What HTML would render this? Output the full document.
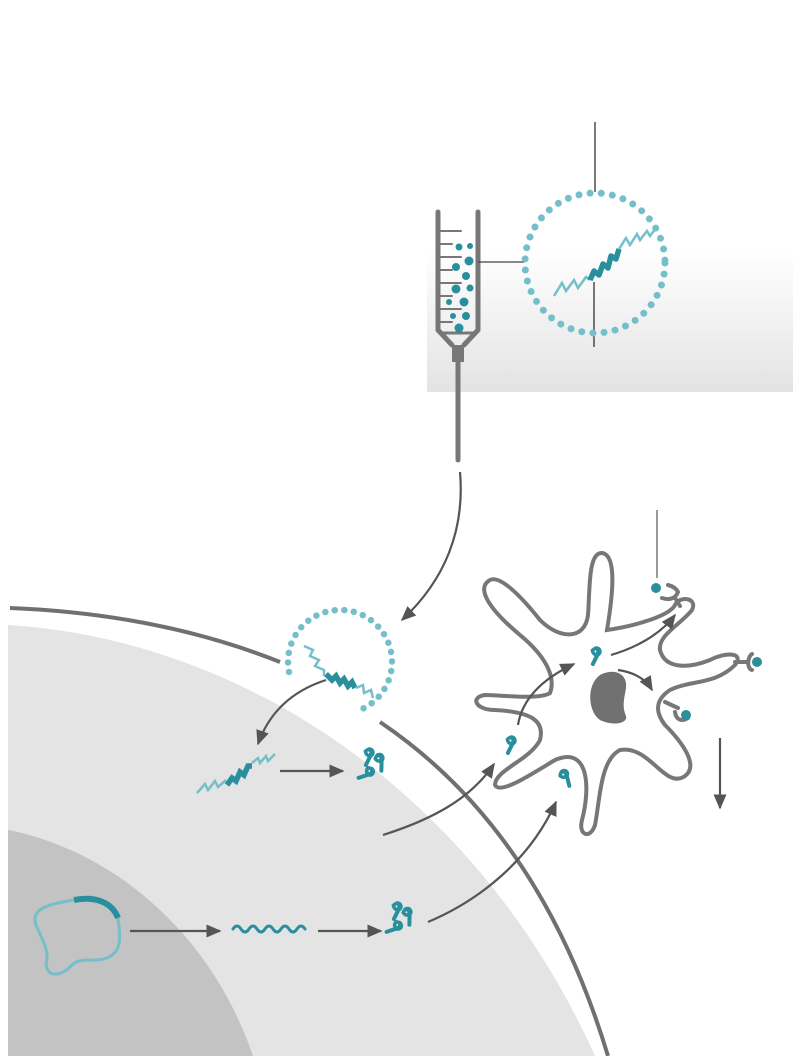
<!DOCTYPE html>
<html><head><meta charset="utf-8"><style>html,body{margin:0;padding:0;background:#fff}svg{display:block}</style></head>
<body>
<svg width="808" height="1056" viewBox="0 0 808 1056" xmlns="http://www.w3.org/2000/svg">
<defs>
<linearGradient id="g" x1="0" y1="0" x2="0" y2="1"><stop offset="0" stop-color="#fff"/><stop offset="1" stop-color="#e3e3e3"/></linearGradient>
<marker id="ah" viewBox="0 0 10 10" refX="9" refY="5" markerWidth="15" markerHeight="13" orient="auto" markerUnits="userSpaceOnUse" preserveAspectRatio="none">
<path d="M0,0 L10,5 L0,10 Z" fill="#555"/></marker>
<g id="p"><path d="M0,-8 C4,-9 6,-5 3,-2 L1,8" fill="none" stroke="#2a8f9c" stroke-width="4" stroke-linecap="round"/><path d="M-3,-5 C-1,-9 3,-8 3,-4 C2,-1 -1,-1 -3,-5Z" fill="none" stroke="#2a8f9c" stroke-width="3.5"/></g>
<g id="pp"><use href="#p" transform="translate(0,0) rotate(15)"/><use href="#p" transform="translate(12,6) rotate(-10)"/><use href="#p" transform="translate(-2,16) rotate(60)"/></g>
</defs>
<rect x="427" y="250" width="366" height="142" fill="url(#g)"/>
<!-- cell -->
<path d="M8,625 C250,640 480,800 595,1056 L8,1056 Z" fill="#e4e4e4"/>
<path d="M8,830 C110,850 210,930 253,1056 L8,1056 Z" fill="#c3c3c3"/>
<path d="M10,608 Q160,614 280,662" fill="none" stroke="#707070" stroke-width="4"/>
<path d="M380,722 Q540,830 608,1056" fill="none" stroke="#707070" stroke-width="4"/>
<!-- syringe -->
<g stroke="#777" fill="none" stroke-linecap="round">
<path d="M438,212 V330 L452,345 M478,212 V330 L464,345" stroke-width="5"/>
<path d="M440,333 L476,333" stroke-width="3"/>
<path d="M440,231 H461 M440,244 H452 M440,257 H461 M440,270 H452 M440,283 H461 M440,296 H452 M440,309 H461 M440,322 H452" stroke-width="2"/>
<rect x="452" y="345" width="12" height="17" fill="#777" stroke="none"/>
<path d="M458,360 V460" stroke-width="5"/>
</g>
<g fill="#2a8f9c"><circle cx="459" cy="247" r="3.5"/><circle cx="470" cy="246" r="3"/><circle cx="469" cy="261" r="4.5"/><circle cx="456" cy="267" r="4"/><circle cx="466" cy="276" r="4"/><circle cx="456" cy="289" r="4.5"/><circle cx="470" cy="288" r="3.5"/><circle cx="449" cy="302" r="3"/><circle cx="464" cy="302" r="4.5"/><circle cx="453" cy="316" r="3"/><circle cx="466" cy="316" r="4"/><circle cx="459" cy="328" r="4.5"/></g>
<path d="M478,262 H524" stroke="#444" stroke-width="1.2"/>
<path d="M595,122 V192 M594,282 V347" stroke="#222" stroke-width="1.2"/>
<circle cx="595" cy="263" r="70" fill="none" stroke="#74bfc9" stroke-width="7" stroke-linecap="round" stroke-dasharray="0 11.2"/>
<path d="M554,296 L562,283 L566,291 L574,280 L578,288 L586,277 L590,280" fill="none" stroke="#74bfc9" stroke-width="2.5"/>
<path d="M590,280 L594,271 L599,275 L603,264 L608,268 L611,256 L616,259 L619,249" fill="none" stroke="#2a8f9c" stroke-width="5.5" stroke-linejoin="round"/>
<path d="M619,249 L626,238 L630,245 L637,234 L640,240 L647,231 L650,236 L656,228" fill="none" stroke="#74bfc9" stroke-width="2.5"/>
<!-- arrow syringe to cell -->
<path d="M460,472 C465,530 445,580 402,620" fill="none" stroke="#555" stroke-width="2.2" marker-end="url(#ah)"/>
<!-- nanoparticle at membrane -->
<path d="M289,672 A52,52 0 1 1 361,709.5" fill="none" stroke="#74bfc9" stroke-width="6.5" stroke-linecap="round" stroke-dasharray="0 9.6"/>
<path d="M304,646 L313,650 L310,656 L319,660 L315,666 L324,670 L324,676" fill="none" stroke="#74bfc9" stroke-width="2.5"/>
<path d="M326,674 L332,680 L336,676 L340,683 L344,679 L348,686 L352,682 L355,688" fill="none" stroke="#2a8f9c" stroke-width="5.5"/>
<path d="M356,688 L363,685 L364,693 L371,690 L373,698" fill="none" stroke="#74bfc9" stroke-width="2.5"/>
<path d="M326,680 C295,690 270,710 258,744" fill="none" stroke="#555" stroke-width="2.2" marker-end="url(#ah)"/>
<path d="M197,793 L205,784 L208,790 L215,781 L218,787 L226,780" fill="none" stroke="#74bfc9" stroke-width="2.5"/>
<path d="M227,785 L232,778 L236,781 L240,772 L244,775 L248,766 L252,766" fill="none" stroke="#2a8f9c" stroke-width="5.5"/>
<path d="M252,763 L258,758 L260,763 L266,756 L268,761 L275,754" fill="none" stroke="#74bfc9" stroke-width="2.5"/>
<path d="M280,771 H343" stroke="#555" stroke-width="2.2" marker-end="url(#ah)"/>
<use href="#pp" transform="translate(367,757)"/>
<!-- nucleus path -->
<path d="M74,900 C95,896 112,902 118,918" fill="none" stroke="#2a8f9c" stroke-width="6"/>
<path d="M74,900 C50,904 30,908 36,925 C42,940 50,950 46,965 C48,978 62,976 72,965 C82,955 100,965 112,955 C122,948 120,935 118,918" fill="none" stroke="#74bfc9" stroke-width="3"/>
<path d="M130,931 H220" stroke="#555" stroke-width="2.2" marker-end="url(#ah)"/>
<path d="M233,929 Q237,923 241,929 T249,929 T257,929 T265,929 T273,929 T281,929 T289,929 T297,929 T305,929" fill="none" stroke="#2a8f9c" stroke-width="3" stroke-linecap="round"/>
<path d="M318,931 H381" stroke="#555" stroke-width="2.2" marker-end="url(#ah)"/>
<use href="#pp" transform="translate(395,911)"/>
<path d="M428,922 C480,900 530,860 556,802" fill="none" stroke="#555" stroke-width="2.2" marker-end="url(#ah)"/>
<path d="M383,835 C430,820 470,800 494,764" fill="none" stroke="#555" stroke-width="2.2" marker-end="url(#ah)"/>
<!-- dendritic cell -->
<path d="M607,630 C612,600 618,555 602,553 C588,552 590,590 588,615 C585,640 560,640 540,620 C520,595 500,575 490,580 C475,588 490,610 520,635 C550,660 555,680 550,693 C540,700 500,695 485,695 C470,697 475,710 495,710 C530,712 545,720 540,740 C530,760 495,770 495,785 C500,795 530,775 555,760 C590,745 590,790 582,820 C578,835 590,840 595,825 C600,800 600,760 620,750 C650,745 665,790 685,776 C700,765 680,740 665,725 C655,712 655,700 670,690 C690,680 715,685 735,665 C745,652 725,652 710,660 C690,668 665,670 660,650 C658,635 680,625 692,610 C698,598 680,595 675,605 C670,615 640,625 607,630 Z" fill="#fff" stroke="#777" stroke-width="4"/>
<path d="M600,675 C612,668 628,672 626,688 C624,700 622,706 626,716 C628,724 612,726 600,720 C588,712 586,685 600,675Z" fill="#717171"/>
<use href="#p" transform="translate(594,656) rotate(15)"/>
<use href="#p" transform="translate(509,745) rotate(15)"/>
<use href="#p" transform="translate(565,779) rotate(-25)"/>
<path d="M518,725 C522,700 540,680 574,664" fill="none" stroke="#555" stroke-width="2.2" marker-end="url(#ah)"/>
<path d="M611,655 C635,648 660,635 675,615" fill="none" stroke="#555" stroke-width="2.2" marker-end="url(#ah)"/>
<path d="M618,670 C632,672 645,678 652,690" fill="none" stroke="#555" stroke-width="2.2" marker-end="url(#ah)"/>
<path d="M720,738 V808" stroke="#555" stroke-width="2.2" marker-end="url(#ah)"/>
<path d="M657,510 V578" stroke="#777" stroke-width="1.5"/>
<g stroke="#777" stroke-width="4" fill="none" stroke-linecap="round">
<path d="M680,606 L675,598 M662,598 C668,600 675,600 678,592 C676,588 672,586 668,585"/>
<path d="M735,662 L748,662 M752,654 C748,656 746,668 752,670"/>
<path d="M665,702 L678,708 M675,712 C676,720 682,722 688,718"/>
</g>
<g fill="#2a8f9c"><circle cx="656" cy="588" r="5"/><circle cx="757" cy="662" r="5"/><circle cx="686" cy="715" r="5"/></g>
</svg>
</body></html>
